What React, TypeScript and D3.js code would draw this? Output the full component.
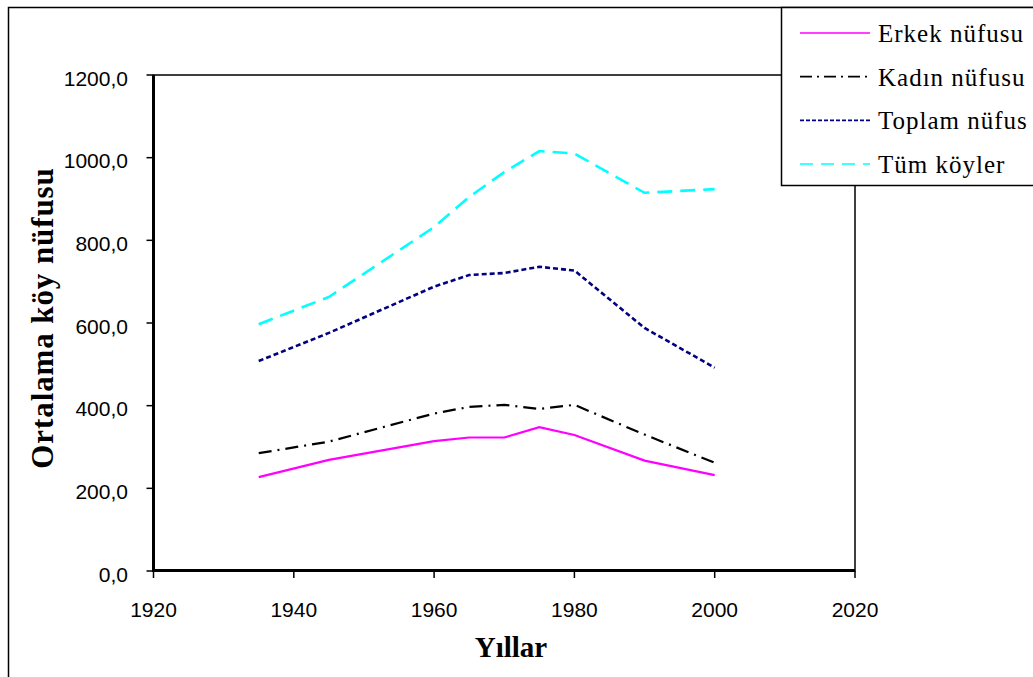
import React from 'react';
import * as d3 from 'd3';

// census years and average village population per series
const years = [1935, 1945, 1960, 1965, 1970, 1975, 1980, 1990, 2000];
const erkek = [227, 269, 314, 323, 323, 348, 329, 267, 232];
const kadin = [285, 313, 381, 397, 402, 392, 402, 330, 262];
const toplam = [508, 576, 688, 716, 721, 736, 727, 588, 492];
const tumKoyler = [597, 663, 832, 905, 965, 1016, 1010, 915, 924];

const xTicks = [1920, 1940, 1960, 1980, 2000, 2020];
const yTicks = [0, 200, 400, 600, 800, 1000, 1200];

const seriesNames = ['Erkek nüfusu', 'Kadın nüfusu', 'Toplam nüfus', 'Tüm köyler'];

const App = () => {
    const width = 1033;
    const height = 677;
    const plot = { left: 153.5, right: 855, top: 75, bottom: 571 };

    const xScale = d3.scaleLinear().domain([1920, 2020]).range([plot.left, plot.right]);
    const yScale = d3.scaleLinear().domain([0, 1200]).range([plot.bottom, plot.top]);

    const line = d3
        .line<number>()
        .x((_, i) => xScale(years[i]))
        .y((d) => yScale(d));

    const fmt = (v: number) => d3.format('.1f')(v).replace('.', ',');

    // stroke styles per series
    const styles = [
        { color: '#FF00FF', dash: 'none', w: 2.2 },
        { color: '#000000', dash: '13 6 2 6', w: 2.2 },
        { color: '#000080', dash: '5 3', w: 2.6 },
        { color: '#00FFFF', dash: '15 8', w: 2.6 },
    ];
    const seriesData = [erkek, kadin, toplam, tumKoyler];

    const legendY = d3.scalePoint<string>().domain(seriesNames).range([33, 164]);

    return (
        <svg
            width={width}
            height={height}
            style={{ position: 'absolute', left: 0, top: 0, background: '#fff' }}
        >
            {/* outer chart frame */}
            <rect x={8.5} y={7.5} width={1100} height={700} fill="none" stroke="#000" strokeWidth={1.5} />

            {/* plot area frame */}
            <rect
                x={plot.left}
                y={plot.top}
                width={plot.right - plot.left}
                height={plot.bottom - plot.top}
                fill="none"
                stroke="#000"
                strokeWidth={1.5}
            />
            <line x1={plot.left} x2={plot.left} y1={plot.top} y2={plot.bottom + 1} stroke="#000" strokeWidth={3} />
            <line x1={plot.left - 1} x2={plot.right} y1={plot.bottom - 0.5} y2={plot.bottom - 0.5} stroke="#000" strokeWidth={3} />

            {/* y ticks */}
            {yTicks.map((t) => (
                <g key={t}>
                    <line x1={plot.left - 7} x2={plot.left} y1={yScale(t)} y2={yScale(t)} stroke="#000" strokeWidth={1.5} />
                    <text
                        x={128}
                        y={yScale(t) + 10.5}
                        textAnchor="end"
                        fontFamily="'Liberation Sans', Arial, sans-serif"
                        fontSize={21}
                    >
                        {fmt(t)}
                    </text>
                </g>
            ))}

            {/* x ticks */}
            {xTicks.map((t) => (
                <g key={t}>
                    <line x1={xScale(t)} x2={xScale(t)} y1={plot.bottom} y2={plot.bottom + 7} stroke="#000" strokeWidth={1.5} />
                    <text
                        x={xScale(t)}
                        y={617}
                        textAnchor="middle"
                        fontFamily="'Liberation Sans', Arial, sans-serif"
                        fontSize={21}
                    >
                        {t}
                    </text>
                </g>
            ))}

            {/* series */}
            {seriesData.map((d, i) => (
                <path
                    key={seriesNames[i]}
                    d={line(d) || ''}
                    fill="none"
                    stroke={styles[i].color}
                    strokeWidth={styles[i].w}
                    strokeDasharray={styles[i].dash}
                />
            ))}

            {/* axis titles */}
            <text
                x={511}
                y={657}
                textAnchor="middle"
                fontFamily="'Liberation Serif', 'Times New Roman', serif"
                fontWeight="bold"
                fontSize={29}
            >
                Yıllar
            </text>
            <text
                transform="translate(53,318) rotate(-90)"
                textAnchor="middle"
                fontFamily="'Liberation Serif', 'Times New Roman', serif"
                fontWeight="bold"
                fontSize={31}
                letterSpacing={0.9}
            >
                Ortalama köy nüfusu
            </text>

            {/* legend */}
            <rect x={781.5} y={7.5} width={300} height={178} fill="#fff" stroke="#000" strokeWidth={1.5} />
            {seriesNames.map((name, i) => (
                <g key={name}>
                    <line
                        x1={800}
                        x2={870}
                        y1={legendY(name)}
                        y2={legendY(name)}
                        stroke={styles[i].color}
                        strokeWidth={1.6}
                        strokeDasharray={i === 1 ? '12 5 2 5' : i === 2 ? '4 2' : i === 3 ? '13 8' : 'none'}
                    />
                    <text
                        x={878}
                        y={(legendY(name) || 0) + 9}
                        fontFamily="'Liberation Serif', 'Times New Roman', serif"
                        fontSize={25}
                        letterSpacing={1}
                    >
                        {name}
                    </text>
                </g>
            ))}
        </svg>
    );
};

export default App;
